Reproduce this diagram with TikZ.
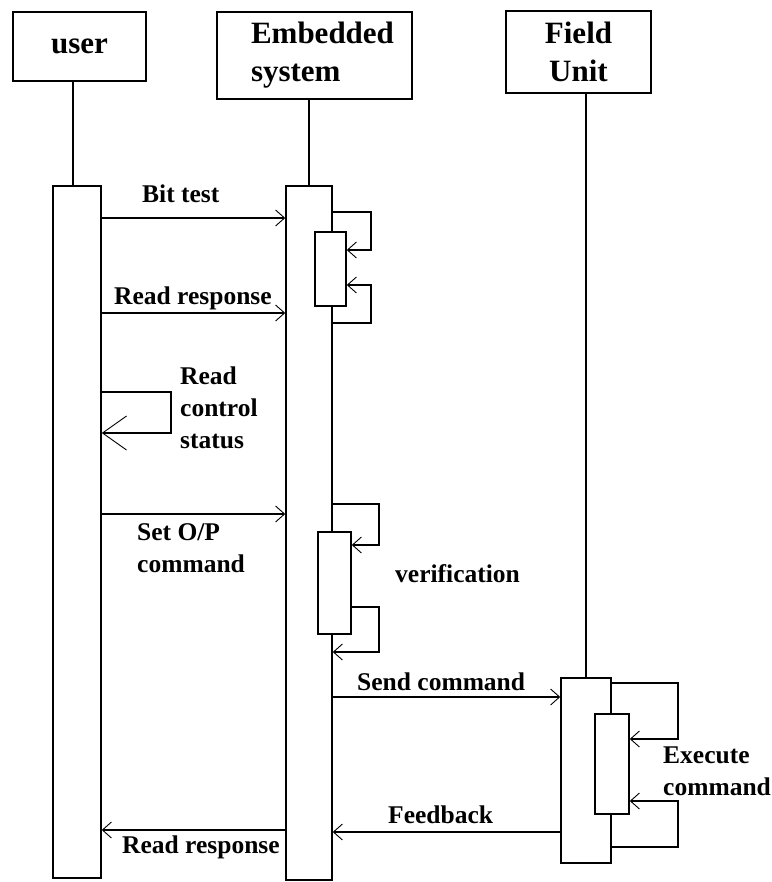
\documentclass[tikz,border=0pt]{standalone}
\usepackage{fontspec}
\setmainfont{Liberation Serif}
\usetikzlibrary{arrows.meta, positioning, calc}

\tikzset{
  head/.style={draw, line width=1.5pt, font=\fontsize{31}{38}\selectfont\bfseries, inner sep=0pt},
  actbox/.style={draw, line width=1.5pt, fill=white, inner sep=0pt},
  life/.style={line width=1.5pt},
  msg/.style={line width=1.4pt, -{Straight Barb[length=9pt, width=16pt, line width=0.9pt]}},
  bigmsg/.style={line width=1.4pt, -{Straight Barb[length=24pt, width=34pt, line width=0.9pt]}},
  lbl/.style={font=\fontsize{25.5}{32}\selectfont\bfseries, anchor=base west, inner sep=0pt, align=left}
}

\begin{document}
\begin{tikzpicture}[x=1pt, y=-1pt]
\useasboundingbox (0,0) rectangle (771,882);

% objects
\node[head, minimum width=133pt, minimum height=69pt] (user) at (79.5,46.5) {user};
\node[head, minimum width=195pt, minimum height=87pt, align=left] (emb) at (314.5,55.5) {\hspace*{16pt}Embedded\\\hspace*{16pt}system};
\node[head, minimum width=145pt, minimum height=82pt, align=center] (field) at (578.5,52) {Field\\Unit};

% activations
\node[actbox, minimum width=48pt, minimum height=692pt] (uact) at (77,532) {};
\node[actbox, minimum width=46pt, minimum height=694pt] (eact) at (309,533) {};
\node[actbox, minimum width=50pt, minimum height=185pt] (fact) at (586,770.5) {};
\node[actbox, minimum width=31pt, minimum height=74pt] (bit) at (330.5,269) {};
\node[actbox, minimum width=33pt, minimum height=102pt] (ver) at (334.5,583) {};
\node[actbox, minimum width=34pt, minimum height=100pt] (exe) at (612,764) {};

% lifelines
\draw[life] (73,0 |- user.south) -- (73,0 |- uact.north);
\draw[life] (eact.north |- emb.south) -- (eact.north);
\draw[life] (fact.north |- field.south) -- (fact.north);

% bit test
\draw[msg] (uact.east |- 0,218) -- (eact.west |- 0,218);
\node[lbl] (bitlbl) at (142,203) {Bit test};
\draw[msg] (eact.east |- 0,212) -| (371,250) -- (bit.east |- 0,250);
\draw[msg] (eact.east |- 0,323) -| (371,285) -- (bit.east |- 0,285);
\draw[msg] (uact.east |- 0,313) -- (eact.west |- 0,313);
\node[lbl] (resplbl) at (114,304) {Read response};

% control status
\draw[bigmsg] (uact.east |- 0,392) -| (171,433) -- (uact.east |- 0,433);
\node[lbl] (statlbl) at (180,448) {Read\\control\\status};

% output command
\draw[msg] (uact.east |- 0,514) -- (eact.west |- 0,514);
\node[lbl] (setlbl) at (137,572) {Set O/P\\command};
\draw[msg] (eact.east |- 0,504) -| (379,545) -- (ver.east |- 0,545);
\draw[msg] (ver.east |- 0,607) -| (379,652) -- (eact.east |- 0,652);
\node[lbl] (verlbl) at (395,582) {verification};

% field unit
\draw[msg] (eact.east |- 0,697) -- (fact.west |- 0,697);
\node[lbl] (sendlbl) at (357,690) {Send command};
\draw[msg] (fact.east |- 0,683) -| (678,739) -- (exe.east |- 0,739);
\draw[msg] (fact.east |- 0,847) -| (678,801) -- (exe.east |- 0,801);
\node[lbl] (exelbl) at (663,795) {Execute\\command};

% feedback
\draw[msg] (fact.west |- 0,832) -- (eact.east |- 0,832);
\node[lbl] (feedlbl) at (388,823) {Feedback};
\draw[msg] (eact.west |- 0,830) -- (uact.east |- 0,830);
\node[lbl] (backlbl) at (122,853) {Read response};
\end{tikzpicture}
\end{document}
